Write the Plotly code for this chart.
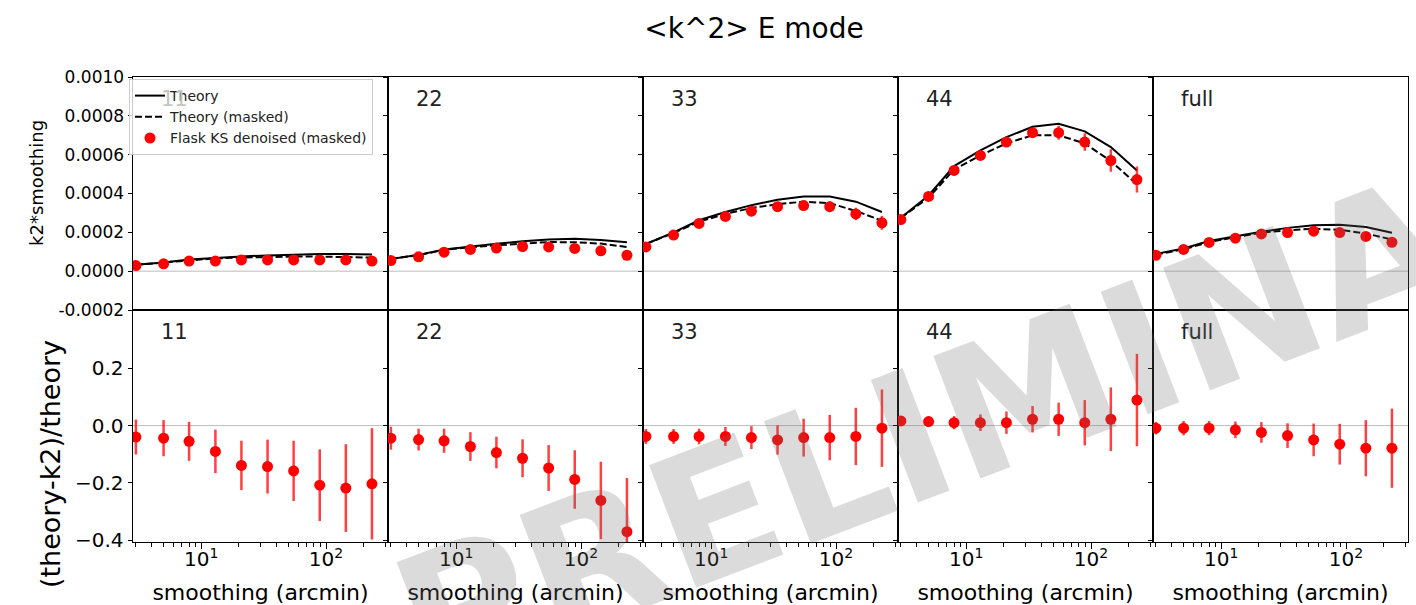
import plotly.graph_objects as go
from plotly.subplots import make_subplots

# ---------------- data ----------------
smoothing = [3, 5, 8, 13, 21, 34, 55, 89, 144, 233]
panel_names = ["11", "22", "33", "44", "full"]

theory_11 = [3.3e-5, 4.5e-5, 6.0e-5, 6.9e-5, 7.6e-5, 8.1e-5, 8.6e-5, 8.9e-5, 8.9e-5, 8.6e-5]
masked_11 = [3.3e-5, 4.4e-5, 5.8e-5, 6.6e-5, 7.0e-5, 7.3e-5, 7.5e-5, 7.5e-5, 7.4e-5, 7.0e-5]
k2_11 = [2.9e-5, 3.8e-5, 5.2e-5, 5.2e-5, 5.8e-5, 5.8e-5, 5.8e-5, 5.8e-5, 5.8e-5, 5.2e-5]
k2err_11 = [2e-6, 3e-6, 4e-6, 5e-6, 6e-6, 6e-6, 7e-6, 8e-6, 1.0e-5, 1.2e-5]

theory_22 = [6.3e-5, 8.4e-5, 1.11e-4, 1.28e-4, 1.41e-4, 1.54e-4, 1.63e-4, 1.67e-4, 1.61e-4, 1.49e-4]
masked_22 = [6.3e-5, 8.3e-5, 1.09e-4, 1.24e-4, 1.33e-4, 1.43e-4, 1.50e-4, 1.49e-4, 1.42e-4, 1.24e-4]
k2_22 = [5.5e-5, 7.4e-5, 9.8e-5, 1.12e-4, 1.19e-4, 1.27e-4, 1.25e-4, 1.17e-4, 1.05e-4, 8.2e-5]
k2err_22 = [2e-6, 3e-6, 4e-6, 6e-6, 7e-6, 9e-6, 1.2e-5, 1.5e-5, 1.9e-5, 2.3e-5]

theory_33 = [1.40e-4, 2.00e-4, 2.62e-4, 3.05e-4, 3.40e-4, 3.68e-4, 3.85e-4, 3.85e-4, 3.58e-4, 3.05e-4]
masked_33 = [1.40e-4, 1.97e-4, 2.55e-4, 2.95e-4, 3.25e-4, 3.45e-4, 3.58e-4, 3.50e-4, 3.10e-4, 2.60e-4]
k2_33 = [1.25e-4, 1.86e-4, 2.46e-4, 2.82e-4, 3.09e-4, 3.32e-4, 3.38e-4, 3.32e-4, 2.95e-4, 2.49e-4]
k2err_33 = [3e-6, 5e-6, 7e-6, 1.0e-5, 1.3e-5, 1.8e-5, 2.3e-5, 2.8e-5, 3.2e-5, 3.6e-5]

theory_44 = [2.75e-4, 3.90e-4, 5.41e-4, 6.22e-4, 6.90e-4, 7.44e-4, 7.59e-4, 7.20e-4, 6.39e-4, 5.19e-4]
masked_44 = [2.75e-4, 3.78e-4, 5.24e-4, 5.96e-4, 6.58e-4, 7.00e-4, 7.00e-4, 6.58e-4, 5.67e-4, 4.47e-4]
k2_44 = [2.66e-4, 3.85e-4, 5.19e-4, 5.96e-4, 6.65e-4, 7.13e-4, 7.13e-4, 6.65e-4, 5.70e-4, 4.72e-4]
k2err_44 = [4e-6, 6e-6, 8e-6, 1.1e-5, 1.5e-5, 2.2e-5, 3.6e-5, 4.5e-5, 5.8e-5, 6.7e-5]

theory_full = [8.9e-5, 1.17e-4, 1.55e-4, 1.80e-4, 2.03e-4, 2.23e-4, 2.37e-4, 2.39e-4, 2.28e-4, 1.98e-4]
masked_full = [8.6e-5, 1.12e-4, 1.50e-4, 1.75e-4, 1.98e-4, 2.11e-4, 2.18e-4, 2.13e-4, 1.94e-4, 1.63e-4]
k2_full = [8.2e-5, 1.12e-4, 1.48e-4, 1.70e-4, 1.92e-4, 1.99e-4, 2.06e-4, 1.99e-4, 1.79e-4, 1.49e-4]
k2err_full = [2e-6, 3e-6, 4e-6, 5e-6, 7e-6, 9e-6, 1.2e-5, 1.4e-5, 1.8e-5, 2.2e-5]

ratio_11 = [-0.040, -0.044, -0.055, -0.090, -0.139, -0.143, -0.158, -0.208, -0.218, -0.203]
ratioerr_11 = [0.061, 0.063, 0.068, 0.076, 0.086, 0.094, 0.105, 0.125, 0.153, 0.194]
ratio_22 = [-0.044, -0.049, -0.053, -0.073, -0.094, -0.114, -0.148, -0.188, -0.261, -0.370]
ratioerr_22 = [0.040, 0.038, 0.042, 0.050, 0.055, 0.066, 0.080, 0.102, 0.135, 0.187]
ratio_33 = [-0.038, -0.038, -0.038, -0.038, -0.042, -0.050, -0.042, -0.042, -0.038, -0.009]
ratioerr_33 = [0.026, 0.026, 0.027, 0.033, 0.040, 0.051, 0.066, 0.079, 0.100, 0.135]
ratio_44 = [0.016, 0.014, 0.010, 0.010, 0.010, 0.022, 0.022, 0.010, 0.022, 0.089]
ratioerr_44 = [0.010, 0.017, 0.023, 0.029, 0.039, 0.046, 0.058, 0.079, 0.111, 0.161]
ratio_full = [-0.009, -0.009, -0.009, -0.015, -0.024, -0.035, -0.050, -0.065, -0.079, -0.079]
ratioerr_full = [0.022, 0.025, 0.025, 0.029, 0.036, 0.043, 0.057, 0.071, 0.098, 0.138]

top_ytickvals = [-0.0002, 0.0, 0.0002, 0.0004, 0.0006, 0.0008, 0.0010]
top_yticktext = ["-0.0002", "0.0000", "0.0002", "0.0004", "0.0006", "0.0008", "0.0010"]
bot_ytickvals = [-0.4, -0.2, 0.0, 0.2]
bot_yticktext = ["\u22120.4", "\u22120.2", "0.0", "0.2"]
xtickvals = [10, 100]
xticktext = ["10<sup>1</sup>", "10<sup>2</sup>"]
xminor = [3, 4, 5, 6, 7, 8, 9, 20, 30, 40, 50, 60, 70, 80, 90, 200, 300]

theory = [theory_11, theory_22, theory_33, theory_44, theory_full]
masked = [masked_11, masked_22, masked_33, masked_44, masked_full]
k2 = [k2_11, k2_22, k2_33, k2_44, k2_full]
k2err = [k2err_11, k2err_22, k2err_33, k2err_44, k2err_full]
ratio = [ratio_11, ratio_22, ratio_33, ratio_44, ratio_full]
ratioerr = [ratioerr_11, ratioerr_22, ratioerr_33, ratioerr_44, ratioerr_full]

# ---------------- layout geometry ----------------
W, H = 1416, 605
ML, MR, MT, MB = 133, 8, 77, 63
PW, PH = W - ML - MR, H - MT - MB
FONT = "DejaVu Sans"
RED = "#ff0000"


def px_x(px):
    return (px - ML) / PW


def px_y(py):
    return (H - MB - py) / PH


fig = make_subplots(rows=2, cols=5, horizontal_spacing=0, vertical_spacing=0,
                    row_heights=[233, 232])

for i in range(5):
    col = i + 1
    show = (i == 0)
    fig.add_trace(go.Scatter(x=smoothing, y=theory[i], mode="lines", name="Theory",
                             line=dict(color="black", width=2), showlegend=show),
                  row=1, col=col)
    fig.add_trace(go.Scatter(x=smoothing, y=masked[i], mode="lines", name="Theory (masked)",
                             line=dict(color="black", width=2, dash="7px,3px"), showlegend=show),
                  row=1, col=col)
    fig.add_trace(go.Scatter(x=smoothing, y=k2[i], mode="markers", name="Flask KS denoised (masked)",
                             marker=dict(color=RED, size=11),
                             error_y=dict(type="data", array=k2err[i], color="rgba(255,0,0,0.75)",
                                          thickness=2.5, width=0),
                             showlegend=show),
                  row=1, col=col)
    fig.add_trace(go.Scatter(x=smoothing, y=ratio[i], mode="markers", name="ratio",
                             marker=dict(color=RED, size=11),
                             error_y=dict(type="data", array=ratioerr[i], color="rgba(255,0,0,0.75)",
                                          thickness=2.5, width=0),
                             showlegend=False),
                  row=2, col=col)

axis_common = dict(showline=True, mirror=True, linecolor="black", linewidth=1,
                   showgrid=False, zeroline=False, automargin=False)

for i in range(5):
    col = i + 1
    fig.update_xaxes(type="log", range=[0.454, 2.496], ticks="", showticklabels=False,
                     row=1, col=col, **axis_common)
    fig.update_xaxes(type="log", range=[0.454, 2.496], ticks="outside", ticklen=6, tickwidth=1,
                     tickcolor="black", tickmode="array", tickvals=xtickvals, ticktext=xticktext,
                     tickfont=dict(family=FONT, size=20, color="black"), ticklabelstandoff=-7,
                     minor=dict(ticks="outside", ticklen=3.5, tickwidth=1, tickcolor="black",
                                tickmode="array", tickvals=xminor, showgrid=False),
                     title=dict(text="smoothing (arcmin)", font=dict(family=FONT, size=22, color="black"),
                                standoff=14),
                     row=2, col=col, **axis_common)
    fig.update_yaxes(range=[-0.0002, 0.0010], ticks="outside", ticklen=4.5, tickwidth=1, tickcolor="black",
                     tickmode="array", tickvals=top_ytickvals, ticktext=top_yticktext,
                     showticklabels=(i == 0), tickfont=dict(family=FONT, size=17, color="black"),
                     row=1, col=col, **axis_common)
    fig.update_yaxes(range=[-0.406, 0.403], ticks="outside", ticklen=4.5, tickwidth=1, tickcolor="black",
                     tickmode="array", tickvals=bot_ytickvals, ticktext=bot_yticktext,
                     showticklabels=(i == 0), tickfont=dict(family=FONT, size=20, color="black"),
                     row=2, col=col, **axis_common)

shapes = []
annotations = []
for i in range(5):
    for n in (i + 1, i + 6):
        xa = "x" if n == 1 else f"x{n}"
        ya = "y" if n == 1 else f"y{n}"
        shapes.append(dict(type="line", xref=f"{xa} domain", yref=ya, x0=0, x1=1, y0=0, y1=0,
                           line=dict(color="#bdbdbd", width=1), layer="below"))
        # the top-left "11" sits behind the semi-transparent legend in the reference
        color = "#c4c4c4" if n == 1 else "#222222"
        annotations.append(dict(text=panel_names[i], xref=f"{xa} domain", yref=f"{ya} domain",
                                x=26 / 255, y=1 - 22 / 233, xanchor="left", yanchor="middle",
                                showarrow=False, font=dict(family=FONT, size=21, color=color)))

# y-axis labels
annotations.append(dict(text="k2*smoothing", xref="paper", yref="paper", x=px_x(37), y=px_y(183),
                        textangle=-90, showarrow=False, xanchor="center", yanchor="middle",
                        font=dict(family=FONT, size=18, color="black")))
annotations.append(dict(text="(theory-k2)/theory", xref="paper", yref="paper", x=px_x(50), y=px_y(464),
                        textangle=-90, showarrow=False, xanchor="center", yanchor="middle",
                        font=dict(family=FONT, size=27, color="black")))

# watermark
annotations.append(dict(text="<b>PRELIMINARY</b>", xref="paper", yref="paper",
                        x=px_x(1046), y=px_y(386), textangle=-21, showarrow=False,
                        xanchor="center", yanchor="middle",
                        font=dict(family=FONT, size=180, color="rgba(110,110,110,0.25)")))

fig.update_layout(
    width=W, height=H,
    margin=dict(l=ML, r=MR, t=MT, b=MB),
    paper_bgcolor="white", plot_bgcolor="white",
    font=dict(family=FONT, color="black"),
    title=dict(text="&lt;k^2&gt; E mode", x=754 / W, xref="container", xanchor="center",
               y=1 - 28 / H, yref="container", yanchor="middle",
               font=dict(family=FONT, size=28, color="black")),
    legend=dict(x=px_x(129), y=px_y(79), xanchor="left", yanchor="top",
                bgcolor="rgba(255,255,255,0.8)", bordercolor="#cccccc", borderwidth=1,
                font=dict(family=FONT, size=14, color="#222222"), tracegroupgap=0),
    shapes=shapes,
    annotations=annotations,
)

fig.write_html("out.html", config={"displayModeBar": False},
               post_script="document.body.style.margin='0';document.body.style.overflow='hidden';")
